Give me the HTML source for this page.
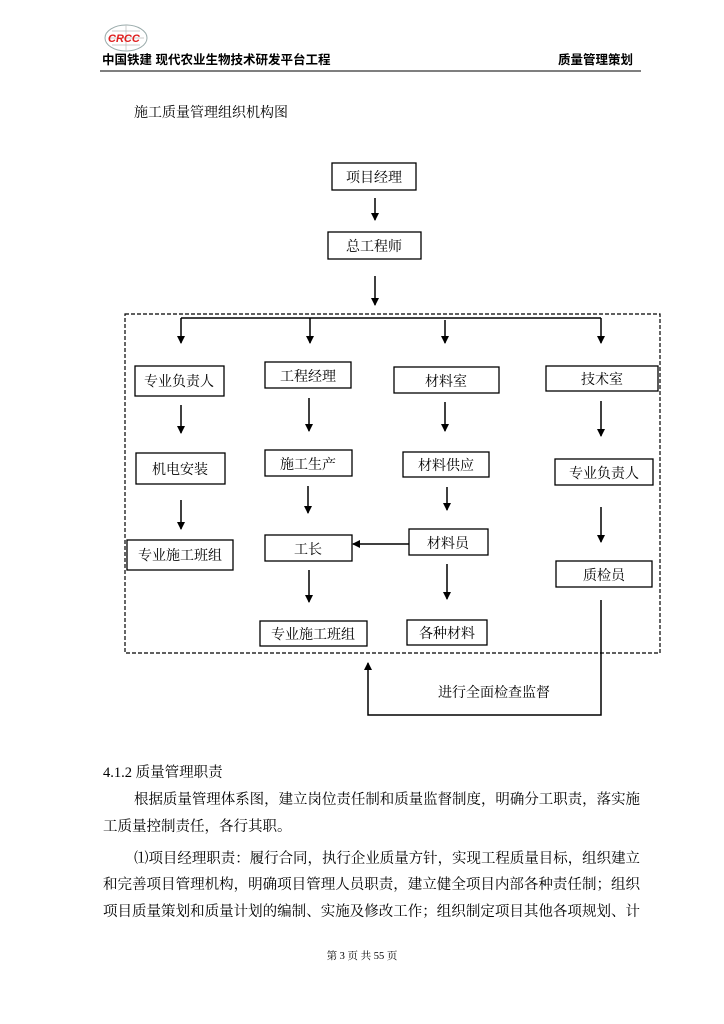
<!DOCTYPE html>
<html><head><meta charset="utf-8"><style>
html,body{margin:0;padding:0;background:#fff}
svg{display:block}
.s{font-family:"Liberation Serif","Noto Serif CJK SC",serif}
.h{font-family:"Liberation Sans","Noto Sans CJK SC",sans-serif;font-weight:bold}
</style></head><body>
<svg width="724" height="1024" viewBox="0 0 724 1024" xmlns="http://www.w3.org/2000/svg">
<defs><marker id="a" markerWidth="8" markerHeight="8" refX="7" refY="4" orient="auto" markerUnits="userSpaceOnUse"><path d="M0,0 L8,4 L0,8 z" fill="#000"/></marker></defs>
<!-- header logo -->
<ellipse cx="126" cy="38" rx="21" ry="13" fill="none" stroke="#9aa" stroke-width="1"/>
<path d="M108,38 H144 M126,25 V51 M112,31 H140 M112,45 H140" stroke="#bbb" stroke-width="0.7"/>
<text x="108" y="42" class="h" font-size="11" fill="#e02020" font-style="italic">CRCC</text>
<text x="102" y="64" class="h" font-size="12.5" fill="#000">中国铁建 现代农业生物技术研发平台工程</text>
<text x="633" y="64" class="h" font-size="12.5" fill="#000" text-anchor="end">质量管理策划</text>
<line x1="100" y1="71" x2="641" y2="71" stroke="#555" stroke-width="1.5"/>
<text x="134" y="117" class="s" font-size="14">施工质量管理组织机构图</text>
<g fill="none" stroke="#000" stroke-width="1.3">
<rect x="332" y="163" width="84" height="27"/>
<rect x="328" y="232" width="93" height="27"/>
<rect x="125" y="314" width="535" height="339" stroke-dasharray="4,2" stroke-width="1.2"/>
<rect x="135" y="366" width="89" height="30"/>
<rect x="265" y="362" width="86" height="26"/>
<rect x="394" y="367" width="105" height="26"/>
<rect x="546" y="366" width="112" height="25"/>
<rect x="136" y="453" width="89" height="31"/>
<rect x="265" y="450" width="87" height="26"/>
<rect x="403" y="452" width="86" height="25"/>
<rect x="555" y="459" width="98" height="26"/>
<rect x="127" y="540" width="106" height="30"/>
<rect x="265" y="535" width="87" height="26"/>
<rect x="409" y="529" width="79" height="26"/>
<rect x="556" y="561" width="96" height="26"/>
<rect x="260" y="621" width="107" height="25"/>
<rect x="407" y="620" width="80" height="25"/>
</g>
<g stroke="#000" stroke-width="1.5" fill="none" marker-end="url(#a)">
<line x1="375" y1="198" x2="375" y2="220"/>
<line x1="375" y1="276" x2="375" y2="305"/>
<line x1="181" y1="318" x2="181" y2="343"/>
<line x1="310" y1="318" x2="310" y2="343"/>
<line x1="445" y1="320" x2="445" y2="343"/>
<line x1="601" y1="318" x2="601" y2="343"/>
<line x1="181" y1="405" x2="181" y2="433"/>
<line x1="309" y1="398" x2="309" y2="431"/>
<line x1="445" y1="402" x2="445" y2="431"/>
<line x1="601" y1="401" x2="601" y2="436"/>
<line x1="181" y1="500" x2="181" y2="529"/>
<line x1="308" y1="486" x2="308" y2="513"/>
<line x1="447" y1="487" x2="447" y2="510"/>
<line x1="601" y1="507" x2="601" y2="542"/>
<line x1="409" y1="544" x2="353" y2="544"/>
<line x1="309" y1="570" x2="309" y2="602"/>
<line x1="447" y1="564" x2="447" y2="599"/>
<polyline points="601,600 601,715 368,715 368,663"/>
</g>
<line x1="181" y1="318" x2="601" y2="318" stroke="#000" stroke-width="1.5"/>
<g class="s" font-size="14" text-anchor="middle">
<text x="374" y="182">项目经理</text>
<text x="374" y="251">总工程师</text>
<text x="179" y="386">专业负责人</text>
<text x="308" y="381">工程经理</text>
<text x="446" y="386">材料室</text>
<text x="602" y="384">技术室</text>
<text x="180" y="474">机电安装</text>
<text x="308" y="469">施工生产</text>
<text x="446" y="470">材料供应</text>
<text x="604" y="478">专业负责人</text>
<text x="180" y="560">专业施工班组</text>
<text x="308" y="554">工长</text>
<text x="448" y="548">材料员</text>
<text x="604" y="580">质检员</text>
<text x="313" y="639">专业施工班组</text>
<text x="447" y="638">各种材料</text>
<text x="494" y="697">进行全面检查监督</text>
</g>
<g class="s" font-size="14.5">
<text x="103" y="777">4.1.2 质量管理职责</text>
<text x="134" y="804" textLength="506" lengthAdjust="spacingAndGlyphs">根据质量管理体系图，建立岗位责任制和质量监督制度，明确分工职责，落实施</text>
<text x="103" y="831">工质量控制责任，各行其职。</text>
<text x="134" y="863" textLength="506" lengthAdjust="spacingAndGlyphs">⑴项目经理职责：履行合同，执行企业质量方针，实现工程质量目标，组织建立</text>
<text x="103" y="889" textLength="537" lengthAdjust="spacingAndGlyphs">和完善项目管理机构，明确项目管理人员职责，建立健全项目内部各种责任制；组织</text>
<text x="103" y="916" textLength="537" lengthAdjust="spacingAndGlyphs">项目质量策划和质量计划的编制、实施及修改工作；组织制定项目其他各项规划、计</text>
</g>
<text x="362" y="959" class="s" font-size="10.5" text-anchor="middle">第 3 页 共 55 页</text>
</svg>
</body></html>
